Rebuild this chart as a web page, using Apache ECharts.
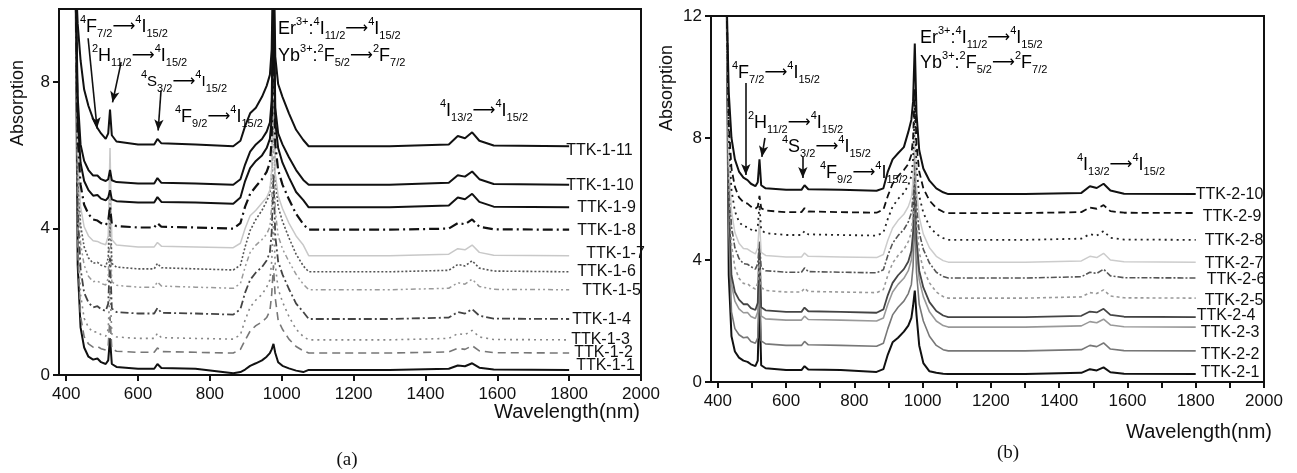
<!DOCTYPE html>
<html>
<head>
<meta charset="utf-8">
<script src="https://cdn.jsdelivr.net/npm/echarts@6/dist/echarts.min.js"></script>
<style>
  html, body { margin: 0; padding: 0; background: #fff; }
  #main { width: 1297px; height: 473px; }
</style>
</head>
<body>
<div id="main"></div>
<script>
// wavelength grid (nm) shared by every spectrum
var wavelength = [420, 426, 432, 440, 450, 462, 475, 487, 497, 510, 517, 522, 527, 540, 600, 645, 654, 665, 760, 865,
  885, 898, 912, 928, 945, 958, 967, 972, 977, 982, 990, 1002, 1020, 1040, 1060, 1075, 1300, 1465, 1490, 1510,
  1530, 1550, 1590, 1800];

// panel (a) absorption values
var a1 = [14, 11, 3.0, 1.3, 0.75, 0.5, 0.42, 0.45, 0.35, 0.3, 0.4, 1.0, 0.3, 0.22, 0.17, 0.17, 0.3, 0.19, 0.17, 0.05, 0.08, 0.15, 0.25, 0.32, 0.4, 0.5, 0.6, 0.7, 0.85, 0.6, 0.35, 0.25, 0.18, 0.12, 0.08, 0.14, 0.14, 0.17, 0.26, 0.24, 0.32, 0.2, 0.15, 0.14];
var a2 = [14, 11, 3.4, 1.6, 1.05, 0.85, 0.76, 0.78, 0.72, 0.68, 0.82, 1.6, 0.72, 0.65, 0.62, 0.62, 0.74, 0.64, 0.62, 0.6, 0.7, 0.95, 1.2, 1.35, 1.45, 1.57, 1.75, 2.2, 3.0, 2.1, 1.5, 1.25, 0.98, 0.78, 0.66, 0.6, 0.6, 0.63, 0.73, 0.7, 0.8, 0.66, 0.61, 0.6];
var a3 = [14, 11, 4.0, 2.2, 1.55, 1.3, 1.17, 1.18, 1.1, 1.06, 1.25, 2.4, 1.12, 1.04, 1.0, 1.0, 1.14, 1.02, 1.0, 0.98, 1.1, 1.5, 1.85, 2.05, 2.2, 2.4, 2.6, 3.1, 4.2, 3.0, 2.35, 2.0, 1.6, 1.25, 1.05, 0.96, 0.96, 1.0, 1.13, 1.1, 1.22, 1.04, 0.97, 0.96];
var a4 = [14, 11, 4.6, 2.9, 2.25, 1.98, 1.85, 1.88, 1.8, 1.75, 1.95, 3.2, 1.82, 1.72, 1.68, 1.68, 1.83, 1.7, 1.68, 1.65, 1.8, 2.25, 2.6, 2.8, 2.95, 3.13, 3.35, 3.9, 5.5, 3.8, 3.1, 2.75, 2.35, 1.95, 1.72, 1.53, 1.53, 1.57, 1.72, 1.68, 1.8, 1.62, 1.54, 1.53];
var a5 = [14, 11, 5.3, 3.6, 3.0, 2.7, 2.55, 2.57, 2.5, 2.46, 2.65, 4.2, 2.55, 2.45, 2.4, 2.4, 2.55, 2.43, 2.4, 2.37, 2.5, 2.95, 3.35, 3.55, 3.7, 3.85, 4.05, 4.6, 7.0, 4.5, 3.8, 3.45, 3.1, 2.75, 2.48, 2.33, 2.33, 2.37, 2.52, 2.48, 2.62, 2.42, 2.34, 2.33];
var a6 = [14, 11, 5.8, 4.1, 3.5, 3.2, 3.05, 3.08, 3.0, 2.96, 3.2, 5.0, 3.05, 2.95, 2.9, 2.9, 3.05, 2.93, 2.9, 2.87, 3.0, 3.5, 3.95, 4.25, 4.5, 4.75, 4.95, 5.5, 8.0, 5.4, 4.6, 4.2, 3.75, 3.3, 2.98, 2.82, 2.82, 2.86, 3.02, 2.98, 3.12, 2.92, 2.84, 2.82];
var a7 = [14, 11, 6.2, 4.6, 4.05, 3.8, 3.67, 3.65, 3.6, 3.56, 3.8, 6.2, 3.7, 3.55, 3.5, 3.5, 3.62, 3.52, 3.5, 3.48, 3.6, 4.0, 4.35, 4.5, 4.7, 4.85, 5.05, 5.6, 8.8, 5.5, 4.9, 4.55, 4.15, 3.8, 3.55, 3.26, 3.26, 3.3, 3.45, 3.42, 3.55, 3.35, 3.27, 3.26];
var a8 = [14, 11, 6.5, 5.2, 4.65, 4.4, 4.25, 4.22, 4.15, 4.1, 4.2, 4.6, 4.12, 4.07, 4.03, 4.03, 4.15, 4.05, 4.03, 4.0, 4.15, 4.6, 4.95, 5.15, 5.35, 5.55, 5.8, 6.4, 9.5, 6.3, 5.6, 5.2, 4.8, 4.4, 4.12, 3.97, 3.97, 4.0, 4.15, 4.12, 4.25, 4.05, 3.98, 3.97];
var a9 = [14, 11, 7.0, 5.8, 5.3, 5.05, 4.9, 4.92, 4.82, 4.77, 4.85, 5.05, 4.8, 4.75, 4.71, 4.71, 4.86, 4.73, 4.71, 4.68, 4.85, 5.3, 5.65, 5.85, 6.0, 6.2, 6.45, 7.0, 10.5, 6.9, 6.2, 5.8, 5.4, 5.0, 4.78, 4.58, 4.58, 4.63, 4.85, 4.8, 4.95, 4.73, 4.6, 4.58];
var a10 = [14, 11, 7.6, 6.3, 5.85, 5.6, 5.45, 5.45, 5.35, 5.3, 5.35, 5.6, 5.32, 5.27, 5.23, 5.23, 5.38, 5.25, 5.23, 5.2, 5.35, 5.75, 6.1, 6.3, 6.45, 6.65, 6.9, 7.5, 11, 7.3, 6.6, 6.3, 5.95, 5.6, 5.33, 5.2, 5.2, 5.25, 5.46, 5.42, 5.56, 5.35, 5.22, 5.2];
var a11 = [14, 11, 9.6, 8.6, 7.8, 7.35, 7.0, 6.75, 6.6, 6.45, 6.6, 7.25, 6.55, 6.38, 6.3, 6.3, 6.45, 6.33, 6.3, 6.25, 6.4, 6.8, 7.15, 7.3, 7.6, 7.9, 8.2, 8.9, 12, 8.7, 7.95, 7.6, 7.15, 6.7, 6.42, 6.25, 6.25, 6.3, 6.53, 6.47, 6.63, 6.4, 6.27, 6.25];

// panel (b) absorption values
var b1 = [14, 12.5, 3.5, 1.5, 1.0, 0.8, 0.7, 0.66, 0.58, 0.52, 0.7, 2.7, 0.55, 0.45, 0.39, 0.39, 0.52, 0.41, 0.39, 0.33, 0.42, 0.9, 1.3, 1.45, 1.65, 1.85, 2.1, 2.5, 3.0, 2.2, 1.2, 0.62, 0.35, 0.3, 0.27, 0.26, 0.26, 0.3, 0.42, 0.38, 0.48, 0.32, 0.27, 0.26];
var b2 = [14, 12.5, 5.0, 2.3, 1.75, 1.55, 1.45, 1.47, 1.33, 1.27, 1.45, 3.5, 1.35, 1.25, 1.2, 1.2, 1.33, 1.22, 1.2, 1.17, 1.27, 1.75, 2.2, 2.45, 2.65, 2.9, 3.2, 3.8, 5.5, 3.6, 2.55, 2.0, 1.5, 1.2, 1.06, 1.02, 1.02, 1.06, 1.2, 1.16, 1.28, 1.08, 1.03, 1.02];
var b3 = [14, 12.5, 5.6, 3.2, 2.65, 2.4, 2.27, 2.28, 2.15, 2.08, 2.3, 4.2, 2.17, 2.07, 2.03, 2.03, 2.16, 2.05, 2.03, 2.0, 2.1, 2.55, 2.95, 3.2, 3.4, 3.65, 4.0, 4.6, 6.5, 4.4, 3.35, 2.8, 2.3, 2.0, 1.85, 1.8, 1.8, 1.84, 1.98, 1.94, 2.06, 1.87, 1.81, 1.8];
var b4 = [14, 12.5, 6.0, 3.5, 2.95, 2.7, 2.55, 2.55, 2.42, 2.36, 2.6, 4.6, 2.45, 2.35, 2.3, 2.3, 2.44, 2.32, 2.3, 2.27, 2.38, 2.85, 3.25, 3.5, 3.7, 3.95, 4.3, 4.9, 7.0, 4.7, 3.65, 3.1, 2.62, 2.33, 2.18, 2.13, 2.13, 2.17, 2.31, 2.28, 2.4, 2.2, 2.14, 2.13];
var b5 = [14, 12.5, 6.5, 4.5, 3.75, 3.4, 3.23, 3.22, 3.12, 3.05, 3.25, 4.0, 3.1, 3.0, 2.95, 2.95, 3.08, 2.97, 2.95, 2.93, 3.03, 3.5, 3.9, 4.15, 4.35, 4.6, 4.9, 5.5, 7.5, 5.3, 4.25, 3.7, 3.25, 2.95, 2.8, 2.75, 2.75, 2.79, 2.93, 2.9, 3.02, 2.82, 2.76, 2.75];
var b6 = [14, 12.5, 7.0, 5.1, 4.4, 4.05, 3.88, 3.86, 3.78, 3.7, 3.88, 4.6, 3.75, 3.65, 3.6, 3.6, 3.74, 3.62, 3.6, 3.58, 3.68, 4.15, 4.55, 4.8, 5.0, 5.25, 5.55, 6.1, 8.0, 5.9, 4.9, 4.35, 3.9, 3.6, 3.46, 3.41, 3.41, 3.45, 3.6, 3.56, 3.7, 3.48, 3.42, 3.41];
var b7 = [14, 12.5, 7.4, 5.6, 4.9, 4.55, 4.38, 4.36, 4.28, 4.2, 4.4, 5.3, 4.25, 4.15, 4.1, 4.1, 4.23, 4.12, 4.1, 4.08, 4.18, 4.65, 5.05, 5.3, 5.5, 5.75, 6.05, 6.6, 8.5, 6.4, 5.4, 4.85, 4.4, 4.12, 3.98, 3.93, 3.93, 3.97, 4.12, 4.08, 4.22, 4.0, 3.94, 3.93];
var b8 = [14, 12.5, 8.0, 6.3, 5.6, 5.25, 5.1, 5.08, 5.0, 4.93, 5.1, 5.8, 4.98, 4.88, 4.82, 4.82, 4.95, 4.84, 4.82, 4.8, 4.9, 5.35, 5.75, 6.0, 6.2, 6.45, 6.75, 7.3, 9.0, 7.1, 6.1, 5.55, 5.1, 4.85, 4.72, 4.66, 4.66, 4.7, 4.85, 4.8, 4.95, 4.73, 4.67, 4.66];
var b9 = [14, 12.5, 8.5, 7.0, 6.4, 6.05, 5.9, 5.85, 5.75, 5.68, 5.75, 6.1, 5.7, 5.62, 5.57, 5.57, 5.7, 5.59, 5.57, 5.55, 5.65, 6.1, 6.5, 6.75, 6.95, 7.15, 7.45, 8.0, 9.6, 7.8, 6.9, 6.35, 5.95, 5.7, 5.58, 5.54, 5.54, 5.57, 5.72, 5.68, 5.8, 5.6, 5.55, 5.54];
var b10 = [14, 12.5, 9.5, 8.0, 7.3, 6.9, 6.7, 6.62, 6.5, 6.42, 6.55, 7.3, 6.45, 6.35, 6.3, 6.3, 6.45, 6.32, 6.3, 6.27, 6.35, 6.9, 7.3, 7.5, 7.7, 8.2, 8.6, 9.2, 11.1, 8.8, 7.6, 7.0, 6.6, 6.35, 6.22, 6.16, 6.16, 6.2, 6.42, 6.36, 6.5, 6.28, 6.17, 6.16];

var namesA = ['TTK-1-1', 'TTK-1-2', 'TTK-1-3', 'TTK-1-4', 'TTK-1-5', 'TTK-1-6', 'TTK-1-7', 'TTK-1-8', 'TTK-1-9', 'TTK-1-10', 'TTK-1-11'];
var namesB = ['TTK-2-1', 'TTK-2-2', 'TTK-2-3', 'TTK-2-4', 'TTK-2-5', 'TTK-2-6', 'TTK-2-7', 'TTK-2-8', 'TTK-2-9', 'TTK-2-10'];
var valuesA = [a1, a2, a3, a4, a5, a6, a7, a8, a9, a10, a11];
var valuesB = [b1, b2, b3, b4, b5, b6, b7, b8, b9, b10];
var xTicks = [400, 600, 800, 1000, 1200, 1400, 1600, 1800, 2000];
var xMinorTicks = [400, 500, 600, 700, 800, 900, 1000, 1100, 1200, 1300, 1400, 1500, 1600, 1700, 1800, 1900, 2000];
var yTicksA = [0, 4, 8];
var yTicksB = [0, 4, 8, 12];

// line looks + end label nudges, one per series
var looksA = [
  {c: '#111', t: 'solid', w: 2, dx: 7, dy: -4},
  {c: '#777', t: [8, 5], w: 1.6, dx: 5, dy: 0},
  {c: '#888', t: [2, 4], w: 1.6, dx: 2, dy: 0},
  {c: '#444', t: [8, 3, 2, 3], w: 1.8, dx: 3, dy: 1},
  {c: '#9a9a9a', t: [5, 3, 2, 3, 2, 3], w: 1.5, dx: 13, dy: 1},
  {c: '#555', t: [2, 2], w: 1.6, dx: 8, dy: 0},
  {c: '#c8c8c8', t: 'solid', w: 1.5, dx: 17, dy: -2},
  {c: '#111', t: [10, 4, 2, 4], w: 2.2, dx: 8, dy: 1},
  {c: '#111', t: 'solid', w: 2, dx: 8, dy: 0},
  {c: '#111', t: 'solid', w: 2, dx: -3, dy: 1},
  {c: '#111', t: 'solid', w: 2, dx: -3, dy: 4}
];
var looksB = [
  {c: '#111', t: 'solid', w: 2, dx: 5, dy: -1},
  {c: '#777', t: 'solid', w: 1.6, dx: 5, dy: 4},
  {c: '#999', t: 'solid', w: 1.6, dx: 5, dy: 5},
  {c: '#444', t: 'solid', w: 1.8, dx: 1, dy: -1},
  {c: '#999', t: [3, 3], w: 1.6, dx: 9, dy: 2},
  {c: '#555', t: [6, 2, 2, 2], w: 1.6, dx: 11, dy: 2},
  {c: '#cccccc', t: 'solid', w: 1.5, dx: 9, dy: 1},
  {c: '#222', t: [2, 4], w: 1.8, dx: 9, dy: 1},
  {c: '#111', t: [7, 4], w: 1.8, dx: 7, dy: 4},
  {c: '#111', t: 'solid', w: 2, dx: 0, dy: 0}
];

// annotation arrows [fromX, fromY, toX, toY] in data units
var arrowsA = [[461, 9.2, 486, 6.74], [553, 8.55, 529, 7.45], [664, 7.78, 656, 6.68]];
var arrowsB = [[482, 9.8, 482, 6.79], [538, 8.0, 529, 7.38], [649, 7.38, 649, 6.69]];

var FONT = 'Arial, "Liberation Sans", Helvetica, sans-serif';

var chart = echarts.init(document.getElementById('main'));

function pairs(ys) {
  return wavelength.map(function (w, i) { return [w, ys[i]]; });
}

function arrowLines(list) {
  return list.map(function (a) {
    return [{coord: [a[0], a[1]]}, {coord: [a[2], a[3]]}];
  });
}

function makeSeries(names, values, looks, idx, arrows) {
  return names.map(function (n, i) {
    var lk = looks[i];
    var s = {
      name: n,
      type: 'line',
      xAxisIndex: idx,
      yAxisIndex: idx,
      data: pairs(values[i]),
      showSymbol: false,
      symbol: 'none',
      lineStyle: {color: lk.c, type: lk.t, width: lk.w},
      endLabel: {
        show: true,
        formatter: '{a}',
        distance: 0,
        offset: [lk.dx, lk.dy],
        color: '#111',
        fontSize: 16,
        fontFamily: FONT
      },
      emphasis: {disabled: true},
      z: 2
    };
    if (i === names.length - 1) {
      s.markLine = {
        silent: true,
        symbol: ['none', 'arrow'],
        symbolSize: [7, 11],
        label: {show: false},
        lineStyle: {color: '#111', width: 1.6, type: 'solid'},
        data: arrowLines(arrows)
      };
    }
    return s;
  });
}

var rich = {
  m: {fontSize: 18, fontFamily: FONT, color: '#111', lineHeight: 25, verticalAlign: 'middle'},
  s: {fontSize: 15, fontFamily: FONT, color: '#111', lineHeight: 25, verticalAlign: 'middle'},
  ar: {fontSize: 16, fontFamily: '"DejaVu Sans", sans-serif', color: '#111', lineHeight: 25, verticalAlign: 'middle'},
  sup: {fontSize: 11, fontFamily: FONT, color: '#111', lineHeight: 12, verticalAlign: 'top'},
  sub: {fontSize: 11, fontFamily: FONT, color: '#111', lineHeight: 12, verticalAlign: 'bottom'}
};

function note(x, y, text) {
  return {type: 'text', x: x, y: y, z: 10,
    style: {text: text, rich: rich, align: 'left', verticalAlign: 'middle'}};
}

var tF7 = '{sup|4}{m|F}{sub|7/2}{ar|⟶}{sup|4}{m|I}{sub|15/2}';
var tH11 = '{sup|2}{m|H}{sub|11/2}{ar|⟶}{sup|4}{m|I}{sub|15/2}';
var tS3 = '{sup|4}{s|S}{sub|3/2}{ar|⟶}{sup|4}{s|I}{sub|15/2}';
var tS3b = '{sup|4}{m|S}{sub|3/2}{ar|⟶}{sup|4}{m|I}{sub|15/2}';
var tF9 = '{sup|4}{m|F}{sub|9/2}{ar|⟶}{sup|4}{m|I}{sub|15/2}';
var tEr = '{m|Er}{sup|3+}{m|:}{sup|4}{m|I}{sub|11/2}{ar|⟶}{sup|4}{m|I}{sub|15/2}';
var tYb = '{m|Yb}{sup|3+}{m|:}{sup|2}{m|F}{sub|5/2}{ar|⟶}{sup|2}{m|F}{sub|7/2}';
var tI13 = '{sup|4}{m|I}{sub|13/2}{ar|⟶}{sup|4}{m|I}{sub|15/2}';

function plain(x, y, text, size, rot, family) {
  return {type: 'text', x: x, y: y, rotation: rot || 0, z: 10,
    style: {text: text, fontSize: size, fontFamily: family || FONT, fill: '#111',
      align: 'center', verticalAlign: 'middle'}};
}

function plainNumber(v) {
  return String(v);
}

function xAxisOf(idx, tickVals) {
  return {
    type: 'value', gridIndex: idx, min: 380, max: 2000,
    axisLine: {lineStyle: {color: '#111', width: 2}},
    axisTick: {customValues: tickVals, length: 6, lineStyle: {color: '#111', width: 2}},
    axisLabel: {customValues: xTicks, formatter: plainNumber, color: '#111', fontSize: 17, fontFamily: FONT, margin: 11},
    splitLine: {show: false}
  };
}

function yAxisOf(idx, max, ticks) {
  return {
    type: 'value', gridIndex: idx, min: 0, max: max,
    axisLine: {show: true, lineStyle: {color: '#111', width: 2}},
    axisTick: {show: true, customValues: ticks, length: 6, lineStyle: {color: '#111', width: 2}},
    axisLabel: {customValues: ticks, formatter: plainNumber, color: '#111', fontSize: 17, fontFamily: FONT, margin: 9},
    splitLine: {show: false}
  };
}

var option = {
  backgroundColor: '#fff',
  animation: false,
  grid: [
    {left: 59, top: 9, width: 582, height: 366, show: true, borderColor: '#111', borderWidth: 2, backgroundColor: 'transparent'},
    {left: 711, top: 16, width: 553, height: 366, show: true, borderColor: '#111', borderWidth: 2, backgroundColor: 'transparent'}
  ],
  xAxis: [xAxisOf(0, xTicks), xAxisOf(1, xMinorTicks)],
  yAxis: [yAxisOf(0, 10, yTicksA), yAxisOf(1, 12, yTicksB)],
  series: makeSeries(namesA, valuesA, looksA, 0, arrowsA)
    .concat(makeSeries(namesB, valuesB, looksB, 1, arrowsB)),
  graphic: [
    plain(18, 103, 'Absorption', 18, Math.PI / 2),
    plain(667, 88, 'Absorption', 18, Math.PI / 2),
    plain(567, 412, 'Wavelength(nm)', 20),
    plain(1199, 432, 'Wavelength(nm)', 20),
    plain(347, 460, '(a)', 19, 0, '"Liberation Serif", "Times New Roman", serif'),
    plain(1008, 453, '(b)', 19, 0, '"Liberation Serif", "Times New Roman", serif'),
    note(80, 27, tF7),
    note(92, 56, tH11),
    note(141, 82, tS3),
    note(175, 117, tF9),
    note(278, 29, tEr),
    note(278, 56, tYb),
    note(440, 111, tI13),
    note(732, 73, tF7),
    note(748, 123, tH11),
    note(782, 147, tS3b),
    note(820, 173, tF9),
    note(920, 38, tEr),
    note(920, 63, tYb),
    note(1077, 165, tI13)
  ]
};

chart.setOption(option);
</script>
</body>
</html>
